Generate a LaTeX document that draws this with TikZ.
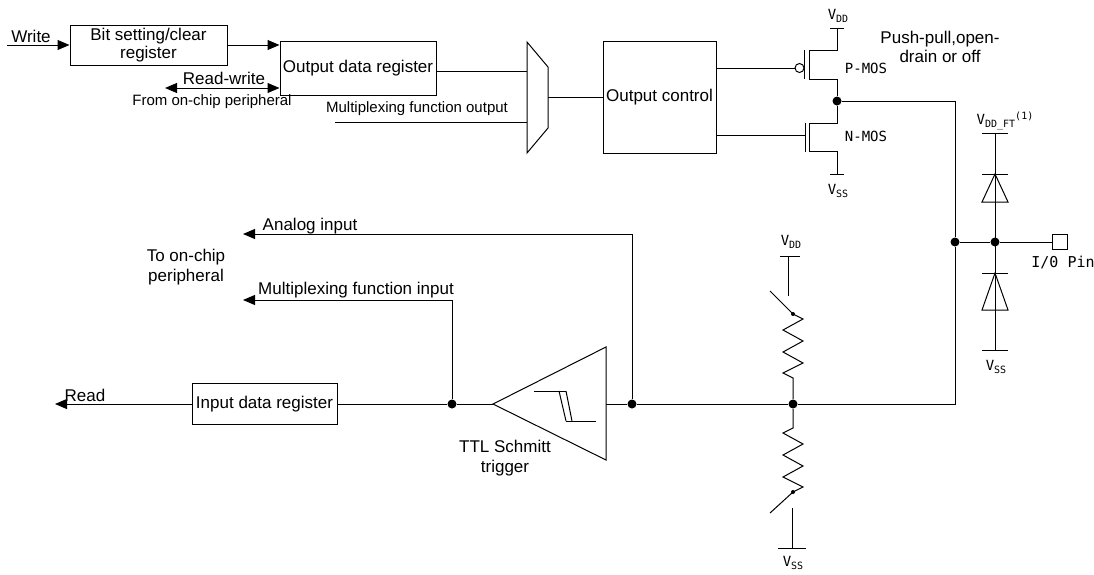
\documentclass[tikz,border=0pt]{standalone}
\usepackage{fontspec}
\setmainfont{Liberation Sans}
\newfontfamily\monof{DejaVu Sans Mono}
\usetikzlibrary{arrows.meta}
\newcommand\sbs[1]{\raisebox{-3pt}{\fontsize{10}{10}\selectfont #1}}
\begin{document}
\begin{tikzpicture}[x=1pt,y=-1pt,line width=1pt,
  box/.style={draw,rectangle,inner sep=0pt,align=center,font=\fontsize{17}{18}\selectfont},
  lbl/.style={inner sep=0pt,align=center,font=\fontsize{17}{20}\selectfont},
  slbl/.style={inner sep=0pt,align=center,font=\fontsize{15}{18}\selectfont},
  vlbl/.style={inner sep=0pt,font=\monof\fontsize{14}{14}\selectfont},
  moslbl/.style={inner sep=0pt,font=\monof\fontsize{14}{14}\selectfont},
  jdot/.style={circle,fill,inner sep=0pt,minimum size=9pt},
  arr/.style={-{Triangle[length=12pt,width=10pt]}},
  darr/.style={{Triangle[length=12pt,width=10pt]}-{Triangle[length=12pt,width=10pt]}}]
\useasboundingbox (0,0) rectangle (1094,574);

% boxes
\node[box,minimum width=157pt,minimum height=40pt] (bit) at (148.5,45) {Bit setting/clear\\register};
\node[box,minimum width=156pt,minimum height=54pt] (odr) at (358,68) {Output data register};
\node[box,minimum width=113pt,minimum height=112pt] (octl) at (659.5,97) {Output control};
\node[box,minimum width=145pt,minimum height=41pt] (idr) at (264.5,404) {Input data register};

% write / read-write
\coordinate (wstart) at (7,45);
\draw[arr] (wstart) -- (wstart -| bit.west);
\node[lbl] (wlbl) at (31,36) {Write};
\draw[arr] (bit.east) -- (bit.east -| odr.west);
\coordinate (rw) at (165,88);
\draw[darr] (rw) -- (rw -| odr.west);
\node[lbl] (rwlbl) at (224,78) {Read-write};
\node[slbl] (fop) at (212,102) {From on-chip peripheral};

% mux
\draw (527,42) -- (548,67) -- (548,128) -- (527,153) -- cycle;
\coordinate (mi1) at (527,71);
\coordinate (mi2) at (527,122);
\coordinate (mo) at (548,97);
\coordinate (mfo) at (335,122);
\draw (odr.east |- mi1) -- (mi1);
\draw (mfo) -- (mi2);
\node[slbl] (mfolbl) at (417,109) {Multiplexing function output};
\draw (mo) -- (mo -| octl.west);

% P-MOS
\node[circle,draw,inner sep=0pt,minimum size=9pt] (bub) at (799.5,68) {};
\draw (octl.east |- bub) -- (bub.west);
\draw (804.5,50) -- (804.5,79);
\draw (809,50) -- (809,79);
\coordinate (pvdd) at (837,28);
\draw (809,50) -- (837,50) -- (pvdd);
\draw (830,28) -- (844,28);
\node[vlbl] (vdd1) at (838,16) {V\sbs{DD}};
\node[jdot] (od) at (837,101) {};
\draw (809,79) -- (837,79) -- (od);
% N-MOS
\draw (od) -- (837,123) -- (809,123);
\draw (805,123) -- (805,152);
\draw (809,123) -- (809,152);
\coordinate (nvss) at (837,174);
\draw (809,151) -- (837,151) -- (nvss);
\draw (830,174) -- (844,174);
\node[vlbl] (vss1) at (838,191) {V\sbs{SS}};
\draw (octl.east |- 0,135) -- (805,135);
\node[moslbl] (pmos) at (866,68) {P-MOS};
\node[moslbl] (nmos) at (866,136) {N-MOS};
\node[lbl,font=\fontsize{17}{19}\selectfont] (pp) at (940,47) {Push-pull,open-\\drain or off};

% output wire and pin
\coordinate (c1) at (955,101);
\coordinate (c2) at (955,404);
\node[jdot] (pd1) at (955,242) {};
\node[jdot] (pd2) at (995,242) {};
\node[draw,inner sep=0pt,minimum size=15pt] (pin) at (1059.5,242) {};
\node[jdot] (rj) at (793,404) {};
\node[jdot] (rd) at (632,404) {};
\node[jdot] (ld) at (452,404) {};
\draw (od) -- (c1) -- (pd1) -- (c2) -- (rj);
\draw (pd1) -- (pd2) -- (pin);
\node[inner sep=0pt,font=\monof\fontsize{15}{15}\selectfont] (iolbl) at (1063,262) {I/0 Pin};

% protection diodes
\draw (995,133) -- (995,350);
\draw (982,133) -- (1008,133);
\node[vlbl] (vddft) at (1005,121) {V\sbs{DD\_FT}\raisebox{5pt}{\fontsize{10}{10}\selectfont (1)}};
\draw (982,174) -- (1008,174);
\draw (995,174) -- (1008,202) -- (982,202) -- cycle;
\draw (982,273) -- (1008,273);
\draw (995,273) -- (1008,310) -- (982,310) -- cycle;
\draw (982,350) -- (1008,350);
\node[vlbl] (vss2) at (996,367) {V\sbs{SS}};

% pull-up / pull-down
\draw (rj) -- (793,378) -- (783,373) -- (803,363) -- (783,352) -- (803,341) -- (783,330) -- (803,319) -- (793,314);
\fill (793,314) circle (2pt);
\draw (770,291) -- (793,314);
\draw (788,256) -- (788,296);
\draw (780,256) -- (800,256);
\node[vlbl] (vdd2) at (791,242) {V\sbs{DD}};
\draw (rj) -- (793,428) -- (783,433) -- (803,444) -- (783,455) -- (803,466) -- (783,477) -- (803,487) -- (793,492);
\fill (793,492) circle (2pt);
\draw (793,492) -- (770,513);
\draw (792,508) -- (792,548);
\draw (778,548) -- (806,548);
\node[vlbl] (vss3) at (793,563) {V\sbs{SS}};

% Schmitt trigger
\coordinate (stin) at (493,404);
\coordinate (stout) at (606,404);
\draw (stin) -- (606,347) -- (606,460) -- cycle;
\draw (534,391) -- (566,391);
\draw (559,391) -- (566,421);
\draw (566,391) -- (572,421);
\draw (566,421) -- (596,421);
\node[lbl] (ttl) at (505,458) {TTL Schmitt\\trigger};

\draw (idr.east) -- (ld) -- (stin);
\draw (stout) -- (rd) -- (rj);

% inputs to peripheral
\coordinate (ain) at (243,234);
\coordinate (mfi) at (243,300);
\draw[arr] (rd) |- (ain);
\draw[arr] (ld) |- (mfi);
\node[lbl] (ainlbl) at (310,226) {Analog input};
\node[lbl] (mfilbl) at (356,290) {Multiplexing function input};
\node[lbl] (tocp) at (186,267) {To on-chip\\peripheral};

% read
\coordinate (rdout) at (55,404);
\draw[arr] (idr.west) -- (rdout);
\node[lbl] (rdlbl) at (85,395) {Read};
\end{tikzpicture}
\end{document}
